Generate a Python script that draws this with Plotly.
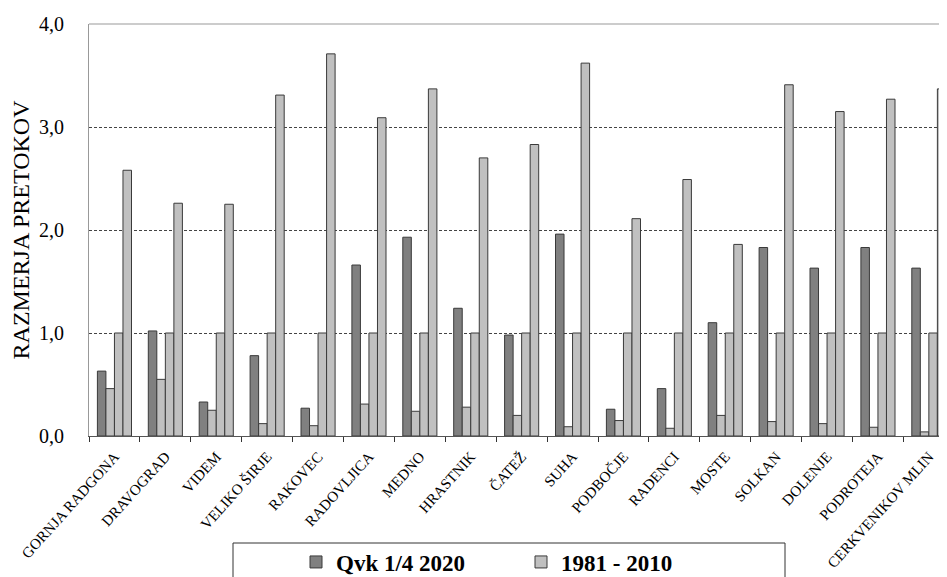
import plotly.graph_objects as go

stations = ["GORNJA RADGONA", "DRAVOGRAD", "VIDEM", "VELIKO ŠIRJE", "RAKOVEC",
            "RADOVLJICA", "MEDNO", "HRASTNIK", "ČATEŽ", "SUHA", "PODBOČJE",
            "RADENCI", "MOSTE", "SOLKAN", "DOLENJE", "PODROTEJA", "CERKVENIKOV MLIN"]
qvk_2020 = [0.63, 1.02, 0.33, 0.78, 0.27, 1.66, 1.93, 1.24, 0.98, 1.96, 0.26,
            0.46, 1.10, 1.83, 1.63, 1.83, 1.63]
ref_min = [0.46, 0.55, 0.25, 0.12, 0.10, 0.31, 0.24, 0.28, 0.20, 0.09, 0.15,
           0.075, 0.20, 0.14, 0.12, 0.085, 0.04]
ref_mean = [1.0] * 17
ref_max = [2.58, 2.26, 2.25, 3.31, 3.71, 3.09, 3.37, 2.70, 2.83, 3.62, 2.11,
           2.49, 1.86, 3.41, 3.15, 3.27, 3.37]
y_ticks = [0, 1, 2, 3, 4]
y_tick_labels = ["0,0", "1,0", "2,0", "3,0", "4,0"]

DARK = "#808080"
LIGHT = "#C0C0C0"
EDGE = "#3a3a3a"
SERIF = "Liberation Serif, Times New Roman, serif"

# page body has an 8px margin; size the figure so it fits the 947x577 window
OFF = 8
W, H = 947 - OFF, 577 - OFF
PLOT_L, PLOT_T, PLOT_B = 89, 24, 436          # plot area edges in window pixels
L, T = PLOT_L - OFF, PLOT_T - OFF
B = H - (PLOT_B - OFF)
R = 0
plot_w = W - L - R
plot_h = H - T - B
cat_w = 50.9  # px per category
x_max = -0.5 + plot_w / cat_w

fig = go.Figure()
fig.add_bar(x=stations, y=qvk_2020, name="Qvk 1/4 2020",
            marker=dict(color=DARK, line=dict(color=EDGE, width=1)))
fig.add_bar(x=stations, y=ref_min, name="1981 - 2010", legendgroup="ref",
            marker=dict(color=LIGHT, line=dict(color=EDGE, width=1)))
fig.add_bar(x=stations, y=ref_mean, name="1981 - 2010", legendgroup="ref", showlegend=False,
            marker=dict(color=LIGHT, line=dict(color=EDGE, width=1)))
fig.add_bar(x=stations, y=ref_max, name="1981 - 2010", legendgroup="ref", showlegend=False,
            marker=dict(color=LIGHT, line=dict(color=EDGE, width=1)))


def px_x(px):
    return (px - PLOT_L) / plot_w


def px_y(py):
    return (PLOT_B - py) / plot_h


fig.update_layout(
    width=W, height=H,
    margin=dict(l=L, r=R, t=T, b=B, autoexpand=False),
    paper_bgcolor="white", plot_bgcolor="white",
    barmode="group", bargap=0.33, bargroupgap=0,
    font=dict(family=SERIF, color="black"),
    showlegend=True,
    legend=dict(orientation="h", x=px_x(296), xanchor="left", y=px_y(562), yanchor="middle",
                font=dict(family=SERIF, size=23, weight="bold"), entrywidth=180,
                bgcolor="rgba(0,0,0,0)", traceorder="normal"),
    xaxis=dict(type="category", range=[-0.5, x_max], tickangle=-48, tickson="boundaries",
               ticks="outside", ticklen=5, tickcolor="#333", showline=True, linecolor="#555",
               linewidth=1, showgrid=False, tickfont=dict(family=SERIF, size=15),
               ticklabelstandoff=5, automargin=False),
    yaxis=dict(range=[0, 4], tickvals=y_ticks, ticktext=y_tick_labels, showline=True,
               linecolor="#999", linewidth=1, showgrid=True, gridcolor="#444",
               griddash="3px,2px", gridwidth=1, zeroline=False, ticks="",
               tickfont=dict(family=SERIF, size=20), ticklabelstandoff=20,
               title=dict(text="RAZMERJA PRETOKOV", font=dict(family=SERIF, size=24), standoff=6),
               automargin=False),
    shapes=[
        dict(type="line", xref="paper", yref="paper", x0=0, x1=1, y0=1, y1=1,
             line=dict(color="#999", width=1)),
        dict(type="rect", xref="paper", yref="paper", x0=px_x(233), x1=px_x(785),
             y0=px_y(543), y1=px_y(600), line=dict(color="#333", width=1),
             fillcolor="rgba(0,0,0,0)"),
    ],
)

fig.write_html("out.html")
